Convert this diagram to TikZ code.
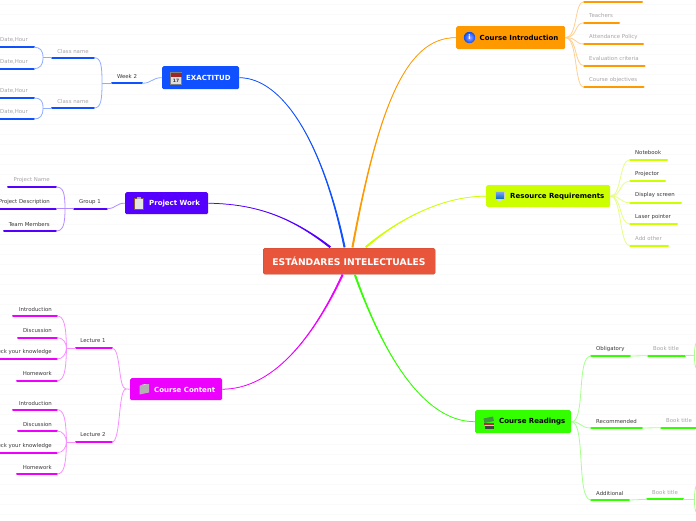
\documentclass[tikz,border=0pt]{standalone}
\usepackage{fontspec}
\setmainfont{DejaVu Sans}
\usetikzlibrary{calc}
\definecolor{cblue}{HTML}{0F50FF}
\definecolor{lblue}{HTML}{8FAEFF}
\definecolor{cviolet}{HTML}{5500FF}
\definecolor{lviolet}{HTML}{B48CFF}
\definecolor{cmag}{HTML}{EE00FF}
\definecolor{lmag}{HTML}{F890FF}
\definecolor{corange}{HTML}{FF9900}
\definecolor{lorange}{HTML}{FFD090}
\definecolor{clime}{HTML}{CCFF00}
\definecolor{llime}{HTML}{E6FF80}
\definecolor{cgreen}{HTML}{33FF00}
\definecolor{lgreen}{HTML}{A8FF90}
\definecolor{credd}{HTML}{E8553A}
\definecolor{darktxt}{HTML}{3A3A3A}
\definecolor{greytxt}{HTML}{A6A6A6}
\tikzset{
  x=1pt,y=-1pt,
  topic/.style={rounded corners=1.5pt,inner sep=0pt,minimum height=#1,anchor=north west},
  toptxt/.style={font=\bfseries\fontsize{7}{8}\selectfont,inner sep=0pt,anchor=west},
  lab/.style={font=\fontsize{5.4}{6}\selectfont,inner sep=0pt,text=darktxt},
  glab/.style={lab,text=greytxt},
  ul/.style={line width=2pt,line cap=round},
  thin link/.style={line width=.8pt},
}
\newcommand{\ub}[5]{\coordinate (#1-l) at (#3,#5);\coordinate (#1-r) at (#4,#5);\draw[ul,#2] (#1-l) -- (#1-r);}
\newcommand{\tapered}[7]{\filldraw[#1,line width=.75pt] (#2) .. controls (#4) and (#5) .. ($(#3)+(#6,#7)$) -- ($(#3)+(-#6,-#7)$) .. controls (#5) and (#4) .. (#2);}
\begin{document}
\begin{tikzpicture}
\useasboundingbox (0,0) rectangle (696,520);
\fill[white] (0,0) rectangle (696,520);
\foreach \k in {0,...,51} \draw[line width=.5pt,black!2] (0,4+10*\k) -- (696,4+10*\k);

% ---- topics ----
\node[topic=26pt,fill=credd,minimum width=172pt,draw=credd!85!black,line width=.3pt] (root) at (263,248) {};
\node[font=\bfseries\fontsize{9.2}{10}\selectfont,text=white,inner sep=0pt] at (349,261) {ESTÁNDARES INTELECTUALES};
\node[topic=23pt,fill=cblue,minimum width=77pt] (exa) at (162,66) {};
\node[topic=22pt,fill=cviolet,minimum width=83pt] (pw) at (125,192) {};
\node[topic=22pt,fill=cmag,minimum width=92pt] (cc) at (130,378) {};
\node[topic=23pt,fill=corange,minimum width=109pt] (ci) at (456,26) {};
\node[topic=22pt,fill=clime,minimum width=124pt] (rr) at (486,185) {};
\node[topic=23pt,fill=cgreen,minimum width=96pt] (cr) at (475,410) {};

\node[toptxt,text=white] at (186,78) {EXACTITUD};
\node[toptxt,text=white] at (149,204) {Project Work};
\node[toptxt,text=white] at (154,389.5) {Course Content};
\node[toptxt,text=black] at (479.5,37.5) {Course Introduction};
\node[toptxt,text=black] at (510,196.5) {Resource Requirements};
\node[toptxt,text=black] at (499,421.5) {Course Readings};

% ---- icons ----
\fill[gray!25] (170.5,72.5) rectangle (181.5,84); \draw[line width=.4pt,gray] (170.5,72.5) rectangle (181.5,84);
\fill[red!55!black!85] (170.5,72.5) rectangle (181.5,76.5);
\node[font=\bfseries\fontsize{4.5}{5}\selectfont,inner sep=0pt,text=black!80] at (176,80.5) {17};
\fill[gray!20,draw=brown!70!black,line width=.6pt] (134.5,198) rectangle (143.5,209);
\fill[gray!60] (137,197) rectangle (141,199);
\shade[inner color=blue!35!white,outer color=blue!70!cyan] (469.5,37.5) circle (5.7);
\node[font=\bfseries\fontsize{6.5}{6.5}\selectfont,inner sep=0pt,text=white] at (469.5,37.5) {i};
\shade[top color=cyan!30!blue!50,bottom color=cyan!60!blue!70!black,draw=gray!40,line width=.5pt] (495,191.5) rectangle (504,199);
\fill[gray!30] (498,199) rectangle (501,201);
\fill[green!45!black!75] (483.5,418.5) -- (493,416.5) -- (494,421) -- (484.5,423) -- cycle;
\fill[red!60!black!80] (484,423) rectangle (494,425);
\fill[gray!40] (485,425) rectangle (494,426);
\fill[black!75] (485,426) rectangle (494,428.5);
\fill[gray!60] (139.5,386) -- (149,384) -- (149,392.5) -- (139.5,394.5) -- cycle;
\fill[gray!35] (139.5,386) -- (143,384.3) -- (149,384) -- (142,385.5) -- cycle;

% ---- main branches ----
\coordinate (exaR) at (exa.east); \coordinate (pwR) at (pw.east); \coordinate (ccR) at (cc.east);
\coordinate (ciL) at (ci.west); \coordinate (rrL) at (rr.west); \coordinate (crL) at (cr.west);
\coordinate (rExa) at (344.5,247); \coordinate (rPw) at (330,247); \coordinate (rCc) at (342.5,275);
\coordinate (rCi) at (352.5,247); \coordinate (rRr) at (366,247); \coordinate (rCr) at (355,275);
\tapered{cblue}{exaR}{rExa}{282,78}{322,140}{.6}{-.2}
\tapered{cviolet}{pwR}{rPw}{255,204}{290,216}{.4}{-.55}
\tapered{cmag}{ccR}{rCc}{272,389}{312,340}{.55}{.4}
\tapered{corange}{ciL}{rCi}{405,37}{378,110}{.6}{.15}
\tapered{clime}{rrL}{rRr}{440,196}{395,222}{.4}{.55}
\tapered{cgreen}{crL}{rCr}{420,422}{380,345}{.6}{-.2}

% ---- EXACTITUD ----
\ub{w2}{cblue}{112}{142}{83.3}
\ub{c1}{cblue}{52}{94}{57.7}
\ub{c2}{cblue}{52}{94}{108}
\ub{d1}{cblue}{-2}{34}{47.3}
\ub{d2}{cblue}{-2}{34}{68.7}
\ub{d3}{cblue}{-2}{34}{98}
\ub{d4}{cblue}{-2}{34}{119}
\node[lab] at (127,76) {Week 2};
\node[glab] at (73,51) {Class name};
\node[glab] at (73,101) {Class name};
\node[glab,anchor=west] at (0,40) {Date,Hour};
\node[glab,anchor=west] at (0,62) {Date,Hour};
\node[glab,anchor=west] at (0,91) {Date,Hour};
\node[glab,anchor=west] at (0,112) {Date,Hour};
\draw[thin link,lblue] (w2-r) .. controls (152,83.3) and (152,77.5) .. (exa.west);
\coordinate (bw) at (102,83.3);
\coordinate (bc1) at (43,57.7); \coordinate (bc2) at (43,108);
\draw[thin link,lblue] (w2-l) -- (bw);
\draw[thin link,lblue] (bw) .. controls (102,65) and (101,57.7) .. (c1-r);
\draw[thin link,lblue] (bw) .. controls (102,100) and (101,108) .. (c2-r);
\draw[thin link,lblue] (c1-l) -- (bc1);
\draw[thin link,lblue] (c2-l) -- (bc2);
\draw[thin link,lblue] (bc1) .. controls (43,50) and (40,47.3) .. (d1-r);
\draw[thin link,lblue] (bc1) .. controls (43,65) and (40,68.7) .. (d2-r);
\draw[thin link,lblue] (bc2) .. controls (43,100) and (40,98) .. (d3-r);
\draw[thin link,lblue] (bc2) .. controls (43,116) and (40,119) .. (d4-r);

% ---- Project Work ----
\ub{g1}{cviolet}{74}{107}{208.7}
\ub{p1}{cviolet}{8}{56}{187}
\ub{p2}{cviolet}{-2}{56}{208.7}
\ub{p3}{cviolet}{4}{56}{231}
\node[lab] at (90,202) {Group 1};
\node[glab,anchor=east] at (50,180) {Project Name};
\node[lab,anchor=east] at (50,202) {Project Description};
\node[lab,anchor=east] at (50,224) {Team Members};
\draw[thin link,lviolet] (g1-r) .. controls (116,208.7) and (116,203) .. (pw.west);
\coordinate (bg) at (65,208.7);
\draw[thin link,lviolet] (g1-l) -- (p2-r);
\draw[thin link,lviolet] (bg) .. controls (65,192) and (63,187) .. (p1-r);
\draw[thin link,lviolet] (bg) .. controls (65,225) and (63,231) .. (p3-r);

% ---- Course Content ----
\ub{l1}{cmag}{76}{112}{348}
\ub{l2}{cmag}{76}{112}{442}
\ub{a}{cmag}{13}{57}{316}
\ub{b}{cmag}{18}{57}{337.7}
\ub{c}{cmag}{-2}{57}{359}
\ub{e}{cmag}{17}{57}{380.7}
\ub{f}{cmag}{13}{57}{409.7}
\ub{g}{cmag}{18}{57}{431}
\ub{h}{cmag}{-2}{57}{452.7}
\ub{j}{cmag}{17}{57}{474}
\node[lab] at (93,341) {Lecture 1};
\node[lab] at (93,435) {Lecture 2};
\foreach \d/\t in {0/Introduction,21.5/Discussion,43/Check your knowledge,64.5/Homework}{
  \node[lab,anchor=east] at (52,309+\d) {\t};
}
\foreach \d/\t in {0/Introduction,21/Discussion,43/Check your knowledge,64/Homework}{
  \node[lab,anchor=east] at (52,403+\d) {\t};
}
\coordinate (bcc) at (126,389);
\draw[thin link,lmag] (cc.west) -- (bcc);
\draw[thin link,lmag] (bcc) .. controls (118,389) and (121,348) .. (l1-r);
\draw[thin link,lmag] (bcc) .. controls (118,389) and (121,442) .. (l2-r);
\coordinate (bl1) at (66.5,348); \coordinate (bl2) at (66.5,442);
\draw[thin link,lmag] (l1-l) -- (bl1);
\draw[thin link,lmag] (l2-l) -- (bl2);
\draw[thin link,lmag] (bl1) .. controls (66,325) and (64,316) .. (a-r);
\draw[thin link,lmag] (bl1) .. controls (66,342) and (63,337.7) .. (b-r);
\draw[thin link,lmag] (bl1) .. controls (66,354) and (63,359) .. (c-r);
\draw[thin link,lmag] (bl1) .. controls (66,372) and (64,380.7) .. (e-r);
\draw[thin link,lmag] (bl2) .. controls (66,419) and (64,409.7) .. (f-r);
\draw[thin link,lmag] (bl2) .. controls (66,436) and (63,431) .. (g-r);
\draw[thin link,lmag] (bl2) .. controls (66,448) and (63,452.7) .. (h-r);
\draw[thin link,lmag] (bl2) .. controls (66,465) and (64,474) .. (j-r);

% ---- Course Introduction ----
\ub{i1}{corange}{584}{642}{1.7}
\ub{i2}{corange}{584}{619}{22.7}
\ub{i3}{corange}{584}{643}{44}
\ub{i4}{corange}{584}{644.5}{65.7}
\ub{i5}{corange}{584}{643.5}{87.3}
\node[glab,anchor=west] at (589,15) {Teachers};
\node[glab,anchor=west] at (589,37) {Attendance Policy};
\node[glab,anchor=west] at (589,58) {Evaluation criteria};
\node[glab,anchor=west] at (589,80) {Course objectives};
\draw[thin link,lorange] (ci.east) .. controls (578,37.5) and (574,1.7) .. (i1-l);
\draw[thin link,lorange] (ci.east) .. controls (578,37.5) and (574,22.7) .. (i2-l);
\draw[thin link,lorange] (ci.east) .. controls (578,37.5) and (574,44) .. (i3-l);
\draw[thin link,lorange] (ci.east) .. controls (578,37.5) and (574,65.7) .. (i4-l);
\draw[thin link,lorange] (ci.east) .. controls (578,37.5) and (574,87.3) .. (i5-l);

% ---- Resource Requirements ----
\ub{r1}{clime}{630}{667}{159.7}
\ub{r2}{clime}{630}{665}{181.3}
\ub{r3}{clime}{630}{681}{202.7}
\ub{r4}{clime}{630}{677}{224}
\ub{r5}{clime}{630}{668}{245.7}
\node[lab,anchor=west] at (635,152) {Notebook};
\node[lab,anchor=west] at (635,174) {Projector};
\node[lab,anchor=west] at (635,195) {Display screen};
\node[lab,anchor=west] at (635,217) {Laser pointer};
\node[glab,anchor=west] at (635,238) {Add other};
\draw[thin link,llime] (rr.east) .. controls (622,196) and (619,159.7) .. (r1-l);
\draw[thin link,llime] (rr.east) .. controls (622,196) and (619,181.3) .. (r2-l);
\draw[thin link,llime] (rr.east) .. controls (622,196) and (619,202.7) .. (r3-l);
\draw[thin link,llime] (rr.east) .. controls (622,196) and (619,224) .. (r4-l);
\draw[thin link,llime] (rr.east) .. controls (622,196) and (619,245.7) .. (r5-l);

% ---- Course Readings ----
\ub{o1}{cgreen}{591}{630}{356}
\ub{o2}{cgreen}{591}{642}{428}
\ub{o3}{cgreen}{591}{629}{500}
\ub{b1}{cgreen}{648}{685}{355.7}
\ub{b2}{cgreen}{661}{698}{427.7}
\ub{b3}{cgreen}{647}{683}{499.3}
\node[lab,anchor=west] at (596,349) {Obligatory};
\node[lab,anchor=west] at (596,421) {Recommended};
\node[lab,anchor=west] at (596,493) {Additional};
\node[glab,anchor=west] at (653,348) {Book title};
\node[glab,anchor=west] at (666,420) {Book title};
\node[glab,anchor=west] at (652,492) {Book title};
\draw[thin link,lgreen] (cr.east) .. controls (586,422) and (576,356) .. (o1-l);
\draw[thin link,lgreen] (cr.east) .. controls (582,422) and (580,428) .. (o2-l);
\draw[thin link,lgreen] (cr.east) .. controls (586,422) and (576,500) .. (o3-l);
\draw[thin link,lgreen] (o1-r) -- (b1-l);
\draw[thin link,lgreen] (o2-r) -- (b2-l);
\draw[thin link,lgreen] (o3-r) -- (b3-l);
\coordinate (e1) at (694.5,355.7); \coordinate (e3) at (694.5,499.3);
\draw[thin link,lgreen] (b1-r) -- (e1);
\draw[thin link,lgreen] (b3-r) -- (e3);
\draw[thin link,lgreen] (696,343) .. controls (694.5,347) and (694.5,352) .. (e1) .. controls (694.5,360) and (694.5,364) .. (696,368);
\draw[thin link,lgreen] (696,486) .. controls (694.5,491) and (694.5,495) .. (e3) .. controls (694.5,504) and (694.5,508) .. (696,512);
\end{tikzpicture}
\end{document}
